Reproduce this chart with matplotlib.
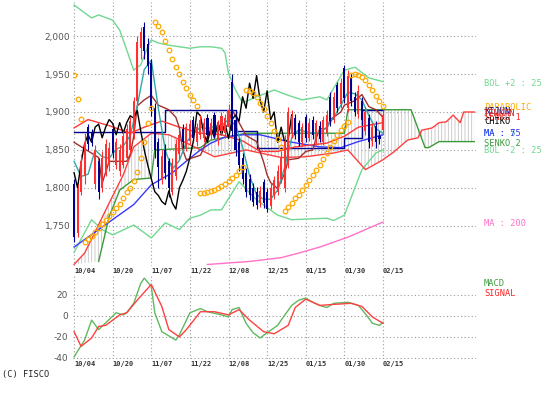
import numpy as np
import matplotlib
matplotlib.use('Agg')
import matplotlib.pyplot as plt
from matplotlib.patches import Polygon

# ---- data (x = trading-day index, 0 = 10/04) ----
days = np.arange(89)
tick_days = [0, 11, 22, 33, 44, 55, 66, 77, 88]
tick_labels = ['10/04', '10/20', '11/07', '11/22', '12/08', '12/25', '01/15', '01/30', '02/15']
price_ticks = [1750, 1800, 1850, 1900, 1950, 2000]
macd_ticks = [-40, -20, 0, 20]

opens = [1805, 1740, 1795, 1815, 1880, 1872, 1805, 1835, 1800, 1820,
         1830, 1878, 1830, 1822, 1830, 1840, 1850, 1870, 1915, 1985,
         2012, 1990, 1965, 1905, 1860, 1812, 1850, 1835, 1795, 1815,
         1845, 1878, 1852, 1862, 1890, 1860, 1870, 1866, 1892, 1870,
         1896, 1862, 1875, 1872, 1880, 1940, 1890, 1860, 1840, 1820,
         1812, 1800, 1795, 1780, 1808, 1795, 1776, 1790, 1795, 1812,
         1800, 1830, 1872, 1892, 1886, 1860, 1894, 1866, 1890, 1860,
         1882, 1860, 1872, 1920, 1890, 1935, 1910, 1958, 1905, 1945,
         1920, 1898, 1915, 1875, 1892, 1862, 1882, 1868, 1876]
closes = [1735, 1800, 1835, 1860, 1858, 1862, 1850, 1795, 1840, 1858,
          1852, 1846, 1860, 1850, 1868, 1878, 1888, 1915, 1992, 2005,
          1980, 1960, 1905, 1850, 1828, 1842, 1820, 1800, 1833, 1858,
          1870, 1860, 1880, 1884, 1866, 1880, 1890, 1885, 1870, 1886,
          1872, 1886, 1895, 1892, 1902, 1875, 1850, 1830, 1812, 1795,
          1790, 1782, 1778, 1796, 1780, 1772, 1800, 1810, 1822, 1840,
          1862, 1900, 1895, 1870, 1860, 1880, 1866, 1886, 1870, 1885,
          1865, 1890, 1896, 1888, 1920, 1905, 1938, 1918, 1948, 1915,
          1900, 1928, 1890, 1900, 1860, 1880, 1860, 1864, 1896]
highs = [1812, 1805, 1845, 1872, 1884, 1878, 1856, 1840, 1848, 1865,
         1860, 1884, 1866, 1858, 1875, 1884, 1893, 1920, 2000, 2012,
         2018, 1998, 1970, 1912, 1866, 1850, 1858, 1840, 1840, 1865,
         1878, 1884, 1886, 1890, 1895, 1886, 1896, 1892, 1898, 1892,
         1900, 1890, 1900, 1898, 1910, 1950, 1895, 1866, 1846, 1826,
         1818, 1806, 1801, 1802, 1812, 1800, 1806, 1816, 1830, 1848,
         1870, 1906, 1902, 1898, 1890, 1886, 1898, 1892, 1895, 1890,
         1888, 1895, 1902, 1926, 1926, 1940, 1945, 1962, 1955, 1950,
         1926, 1935, 1920, 1906, 1898, 1886, 1888, 1875, 1902]
lows = [1728, 1735, 1790, 1805, 1850, 1855, 1798, 1785, 1795, 1815,
        1822, 1840, 1825, 1815, 1826, 1835, 1845, 1865, 1910, 1970,
        1970, 1950, 1895, 1840, 1800, 1805, 1812, 1788, 1790, 1810,
        1838, 1852, 1848, 1858, 1860, 1855, 1864, 1860, 1864, 1865,
        1866, 1856, 1870, 1866, 1876, 1868, 1842, 1822, 1805, 1788,
        1784, 1776, 1772, 1775, 1774, 1768, 1772, 1785, 1790, 1806,
        1795, 1826, 1866, 1865, 1855, 1855, 1860, 1862, 1865, 1856,
        1860, 1856, 1868, 1882, 1886, 1900, 1905, 1912, 1900, 1908,
        1895, 1892, 1884, 1870, 1852, 1855, 1853, 1858, 1872]

sar = [1949, 1917, 1891,
       1728, 1732, 1737, 1742, 1747, 1753, 1758, 1763, 1768, 1774, 1779, 1787, 1795, 1800,
       1809, 1821, 1839, 1861, 1886, 1905,
       2018, 2014, 2005, 1993, 1982, 1970, 1959, 1950, 1939, 1932, 1922, 1916, 1908,
       1793, 1793, 1795, 1796, 1797, 1800, 1803, 1805, 1809, 1813, 1817, 1822, 1828,
       1929, 1928, 1925, 1920, 1912, 1904, 1895, 1886, 1875, 1864, 1854,
       1770, 1775, 1780, 1786, 1791, 1797, 1804, 1811, 1817, 1824, 1830, 1838, 1846, 1854,
       1862, 1870, 1876, 1882, 1887,
       1949, 1950, 1949, 1946, 1942, 1936, 1929, 1921, 1914, 1908]

bol_up_days = [0, 5, 7, 11, 13, 15, 17, 18, 19, 21, 22, 24, 27, 30, 33, 36, 39, 42, 43,
               44, 46, 48, 52, 57, 61, 65, 70, 72, 77, 80, 84, 88]
bol_up = [2041, 2024, 2028, 2021, 2008, 1982, 1955, 1959, 1962, 1986, 1995, 1991, 1988,
          1986, 1984, 1986, 1986, 1984, 1978, 1951, 1929, 1912, 1920, 1929, 1922, 1916,
          1920, 1916, 1955, 1959, 1945, 1940]
bol_lo_days = [0, 3, 5, 8, 11, 17, 22, 26, 30, 33, 36, 39, 42, 47, 52, 58, 62, 72, 74,
               77, 82, 86, 88]
bol_lo = [1715, 1741, 1758, 1745, 1738, 1751, 1734, 1754, 1745, 1760, 1764, 1771, 1771,
          1808, 1784, 1764, 1758, 1760, 1757, 1764, 1824, 1846, 1850]

ma5_days = list(range(0, 89, 2))
ma5 = [1835, 1815, 1818, 1850, 1841, 1839, 1851, 1855, 1869, 1908, 1956, 1968, 1905,
       1849, 1825, 1836, 1860, 1872, 1880, 1878, 1881, 1882, 1890, 1883, 1854, 1816,
       1791, 1785, 1785, 1797, 1827, 1866, 1877, 1874, 1872, 1873, 1880, 1893, 1909,
       1926, 1924, 1916, 1895, 1878, 1872]
ma25_days = [0, 4, 10, 16, 20, 25, 30, 36, 42, 48, 53, 58, 63, 72, 77, 81, 88]
ma25 = [1879, 1890, 1882, 1872, 1880, 1888, 1880, 1872, 1870, 1862, 1848, 1848, 1854,
        1859, 1868, 1880, 1886]
ma75_days = [0, 7, 17, 22, 28, 33, 36, 39, 43, 48, 53, 61, 70, 76, 81, 88]
ma75 = [1722, 1745, 1778, 1804, 1820, 1839, 1850, 1859, 1867, 1870, 1870, 1861, 1854,
        1853, 1861, 1870]
ma200_days = [38, 50, 59, 64, 70, 78, 83, 88]
ma200 = [1699, 1703, 1708, 1714, 1722, 1735, 1745, 1755]

tenkan_days = [0, 7, 8, 10, 15, 16, 17, 18, 20, 22, 24, 27, 29, 30, 31, 32, 36, 37, 38,
               40, 44, 45, 47, 49, 52, 54, 55, 56, 58, 60, 61, 64, 66, 68, 69, 70, 72,
               73, 76, 77, 80, 82, 84, 86, 88]
tenkan = [1860, 1840, 1806, 1835, 1835, 1844, 1868, 1908, 1916, 1922, 1909, 1903, 1893,
          1879, 1850, 1837, 1843, 1853, 1868, 1874, 1883, 1903, 1886, 1869, 1861, 1834,
          1817, 1807, 1799, 1819, 1837, 1839, 1848, 1850, 1866, 1878, 1878, 1890, 1900,
          1909, 1915, 1923, 1907, 1903, 1893]
kijun_days = [0, 26, 46, 52, 77, 82, 88]
kijun = [1874, 1903, 1875, 1852, 1866, 1902, 1902]
senko1_days = [0, 3, 6, 10, 14, 17, 22, 27, 33, 40, 49, 59, 66, 74, 78, 83, 88, 91, 95,
               98, 99, 102, 104, 106, 108, 110, 111, 114]
senko1 = [1699, 1714, 1742, 1780, 1817, 1854, 1872, 1870, 1857, 1841, 1850, 1840, 1841,
          1846, 1850, 1824, 1837, 1847, 1863, 1866, 1876, 1879, 1886, 1887, 1896, 1886,
          1900, 1900]
senko2_days = [7, 10, 13, 17, 22, 23, 36, 39, 49, 77, 78, 96, 100, 101, 104, 114]
senko2 = [1703, 1762, 1797, 1811, 1813, 1850, 1853, 1863, 1872, 1872, 1903, 1903, 1853,
          1853, 1861, 1861]

macd_days = [0, 3, 5, 7, 12, 14, 15, 17, 19, 20, 22, 23, 25, 29, 30, 33, 36, 38, 42, 44,
             45, 47, 49, 51, 53, 55, 58, 59, 62, 64, 66, 68, 70, 72, 74, 78, 81, 83, 85,
             87, 88]
macd = [-39, -23, -4, -13, 3, 1, 3, 12, 31, 36, 28, 3, -15, -23, -18, 3, 7, 4, 1, -1,
        6, 8, -7, -16, -21, -16, -9, -4, 10, 15, 17, 13, 10, 8, 12, 13, 10, 2, -7, -9, -6]
signal_days = [0, 2, 5, 7, 9, 13, 15, 18, 22, 25, 27, 30, 32, 36, 40, 44, 47, 50, 54,
               57, 61, 63, 66, 70, 74, 79, 82, 85, 88]
signal = [-15, -29, -21, -10, -9, 1, 3, 15, 30, 9, -13, -20, -13, 4, 4, 1, 6, -4, -15,
          -17, -9, 8, 16, 10, 11, 12, 9, -1, -7]

RED, NAVY = '#ff3030', '#000090'
BOLC, S2C = '#70d890', '#3a9a3a'
MONO = 'DejaVu Sans Mono'
plt.rcParams['hatch.linewidth'] = 0.6

W, H = 555, 393
fig = plt.figure(figsize=(W / 100, H / 100), dpi=100)
ax = fig.add_axes([73 / W, 1 - 266 / H, 403 / W, 264 / H])
am = fig.add_axes([73 / W, 1 - 359 / H, 403 / W, 83 / H])

for a in (ax, am):
    for s in a.spines.values():
        s.set_visible(False)
    a.set_xlim(-0.3, 114.5)
    a.set_xticks(tick_days)
    a.set_xticklabels(tick_labels, ha='left', fontsize=5, family=MONO,
                      fontweight='bold', color='#333333')
    a.tick_params(length=0, pad=1.5)
    a.grid(True, color='#9a9a9a', ls=(0, (1, 2.2)), lw=0.8)
    a.set_axisbelow(True)
    a.set_facecolor('none')

ax.set_ylim(1697, 2045)
ax.set_yticks(price_ticks)
ax.set_yticklabels([f'{v:,}' for v in price_ticks], fontsize=6.5, color='#555555')
ax.tick_params(axis='y', pad=2)
am.set_ylim(-41, 38)
am.set_yticks(macd_ticks)
am.set_yticklabels([str(v) for v in macd_ticks], fontsize=6.5, color='#555555')
am.tick_params(axis='y', pad=3.5)

# ichimoku cloud: hatched area between the two spans
cloud = Polygon(list(zip(senko1_days, senko1)) + list(zip(senko2_days[::-1], senko2[::-1])),
                closed=True, facecolor='none', edgecolor='#c4c4c4', lw=0, hatch='|||||', zorder=1)
ax.add_patch(cloud)

ax.plot(bol_up_days, bol_up, color=BOLC, lw=1, zorder=2)
ax.plot(bol_lo_days, bol_lo, color=BOLC, lw=1, zorder=2)
ax.plot(ma200_days, ma200, color='#ff70c8', lw=1, zorder=2)
ax.plot(senko2_days, senko2, color=S2C, lw=1, zorder=2)
ax.plot(senko1_days, senko1, color='#ff4040', lw=1, zorder=2)
ax.plot(ma75_days, ma75, color='#3838ff', lw=1, zorder=2)
ax.plot(kijun_days, kijun, color=NAVY, lw=1, drawstyle='steps-post', zorder=2)
ax.plot(ma25_days, ma25, color='#ff3838', lw=1, zorder=2)
ax.plot(tenkan_days, tenkan, color='#a03030', lw=1, zorder=2)
ax.plot(ma5_days, ma5, color='#30a8a8', lw=1, zorder=2)
ax.plot(days[:-26], closes[26:], color='black', lw=1, zorder=2)   # chiko span

o, c = np.array(opens), np.array(closes)
cols = np.where(c >= o, RED, NAVY)
ax.vlines(days, lows, highs, colors=cols, lw=0.8, zorder=3)
ax.bar(days, np.maximum(np.abs(c - o), 2), bottom=np.minimum(o, c), width=0.6,
       color=cols, zorder=3)

ax.plot(days, sar, ls='none', marker='o', ms=3.3, mfc='none', mec='#ffa800', mew=0.9, zorder=4)

am.plot(macd_days, macd, color='#60b860', lw=1)
am.plot(signal_days, signal, color='#ff4040', lw=1)

# right-hand legend texts
legend = [('BOL +2 : 25', BOLC, 83), ('PARABOLIC', '#ffa800', 108), ('KIJUN', NAVY, 111),
          ('TENKAN', '#c02020', 114), ('SENKO 1', '#ff3030', 118), ('CHIKO', 'black', 121),
          ('MA : 5', '#30a8a8', 133), ('MA : 75', '#3838ff', 134), ('SENKO 2', S2C, 143),
          ('BOL -2 : 25', BOLC, 151), ('MA : 200', '#ff70c8', 224),
          ('MACD', S2C, 283), ('SIGNAL', '#ff2020', 293)]
for txt, col, ypx in legend:
    fig.text(484 / W, 1 - ypx / H, txt, color=col, fontsize=6.2, family=MONO, va='center')
fig.text(2 / W, 1 - 375 / H, '(C) FISCO', color='#222222', fontsize=6.2, family=MONO, va='center')

fig.savefig('out.png', dpi=100)
